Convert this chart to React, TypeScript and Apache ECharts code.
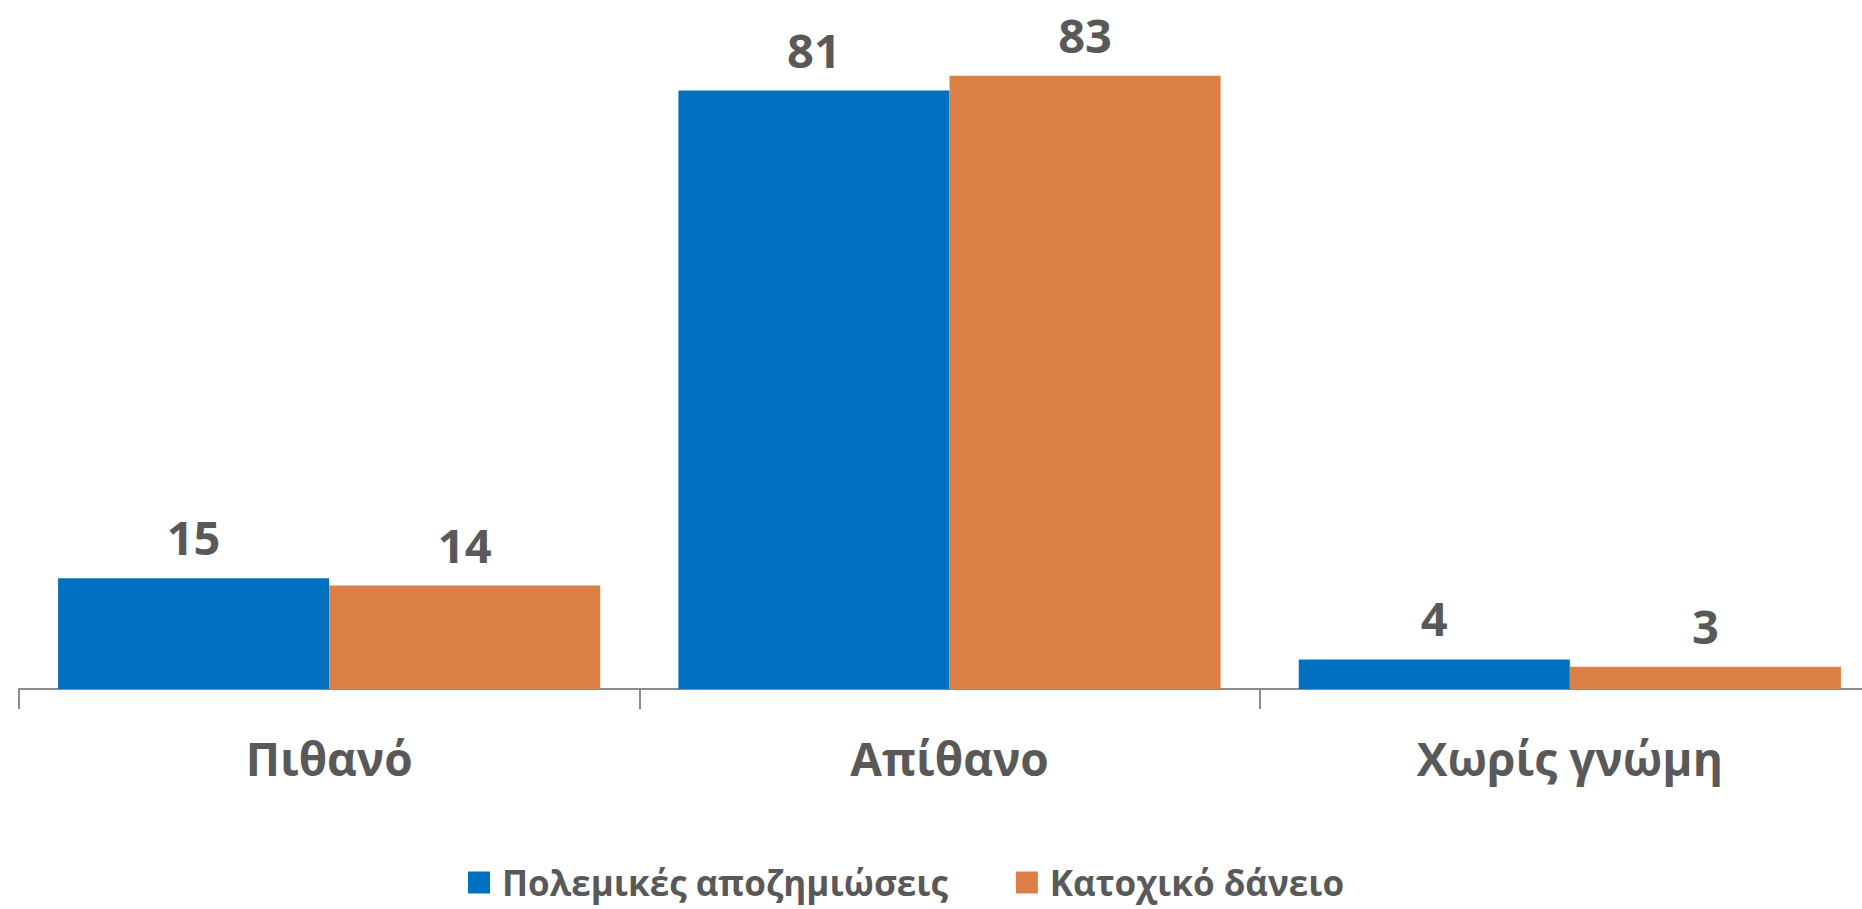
import React, { useEffect, useRef } from "react";
import * as echarts from "echarts";

const categories = ["Πιθανό", "Απίθανο", "Χωρίς γνώμη"];
const seriesNames = ["Πολεμικές αποζημιώσεις", "Κατοχικό δάνειο"];
const warReparations = [15, 81, 4];
const occupationLoan = [14, 83, 3];
const colors = ["#0070C0", "#DD8047"];

const FONT = "'Open Sans', 'Noto Sans', sans-serif";
const TEXT = "#595959";

export default function App() {
  const ref = useRef<HTMLDivElement>(null);
  useEffect(() => {
    if (!ref.current) return;
    const chart = echarts.init(ref.current, null, { renderer: "svg" });
    const label = {
      show: true,
      position: "top",
      distance: 19,
      color: TEXT,
      fontFamily: FONT,
      fontWeight: "bold",
      fontSize: 47,
      lineHeight: 44,
    };
    chart.setOption({
      animation: false,
      grid: { left: 19, right: 0, top: 24, bottom: 220, containLabel: false },
      legend: {
        data: seriesNames,
        left: 463,
        top: 860,
        icon: "rect",
        itemWidth: 22,
        itemHeight: 22,
        itemGap: 68,
        textStyle: {
          color: TEXT,
          fontFamily: FONT,
          fontWeight: "bold",
          fontSize: 35,
          padding: [0, 0, 0, 7],
        },
      },
      xAxis: {
        type: "category",
        data: categories,
        axisLine: { show: true, lineStyle: { color: "#8C8C8C", width: 2 } },
        axisTick: { show: true, length: 20, lineStyle: { color: "#8C8C8C", width: 2 } },
        axisLabel: {
          color: TEXT,
          fontFamily: FONT,
          fontWeight: "bold",
          fontSize: 46,
          margin: 46,
        },
      },
      yAxis: {
        type: "value",
        min: 0,
        max: 90,
        show: false,
        splitLine: { show: false },
      },
      series: [
        {
          name: seriesNames[0],
          type: "bar",
          data: warReparations,
          itemStyle: { color: colors[0] },
          barGap: "0%",
          barCategoryGap: "12.6%",
          label,
        },
        {
          name: seriesNames[1],
          type: "bar",
          data: occupationLoan,
          itemStyle: { color: colors[1] },
          barGap: "0%",
          barCategoryGap: "12.6%",
          label,
        },
      ],
    });
    return () => chart.dispose();
  }, []);
  return (
    <div
      style={{
        position: "fixed",
        left: 0,
        top: 0,
        width: 1862,
        height: 909,
        overflow: "hidden",
        background: "#fff",
      }}
    >
      <div ref={ref} style={{ width: 1880, height: 909 }} />
    </div>
  );
}
